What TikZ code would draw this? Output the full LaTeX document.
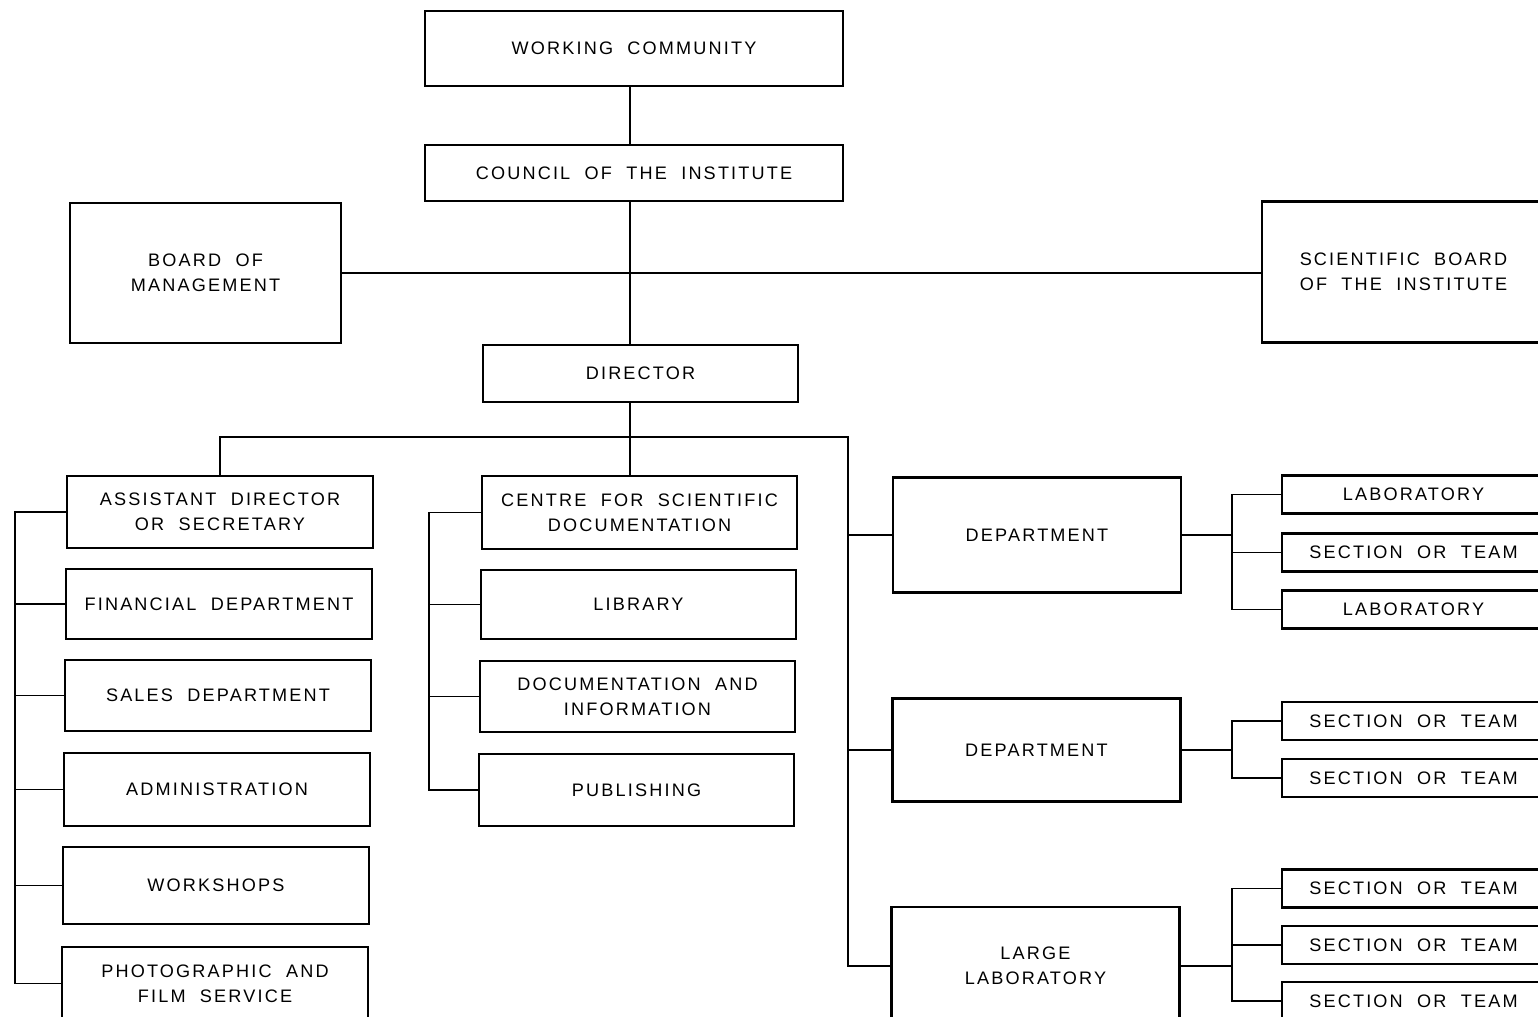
\documentclass[tikz,border=0pt]{standalone}
\usepackage{fontspec}
\usepackage{tikz}
\usetikzlibrary{positioning}
\newfontfamily\chartfont[LetterSpace=12,WordSpace=2]{Liberation Sans}
\tikzset{
  unit/.style={draw=black, line width=1.5pt, fill=white, align=center,
               inner sep=2pt, font=\chartfont\fontsize{10.3}{14.2}\selectfont},
  leftbox/.style={unit, minimum width=6.12cm},
  midbox/.style={unit, minimum width=6.3cm},
  deptbox/.style={unit, minimum width=5.76cm},
  teambox/.style={unit, minimum width=5.26cm, minimum height=0.76cm},
  link/.style={draw=black, line width=1pt}
}
\begin{document}
\begin{tikzpicture}[x=0.02cm, y=-0.02cm]
  \useasboundingbox (0,0) rectangle (1538,1017);
  \clip (0,0) rectangle (1538,1017);
  \node[unit, minimum width=8.36cm, minimum height=1.5cm] (wc) at (634,48.5) {WORKING COMMUNITY};
  \node[unit, minimum width=8.36cm, minimum height=1.12cm] (council) at (634,173) {COUNCIL OF THE INSTITUTE};
  \node[unit, minimum width=5.42cm, minimum height=2.8cm] (board) at (205.5,273) {BOARD OF\\MANAGEMENT};
  \node[unit, minimum width=5.66cm, minimum height=2.82cm] (sciboard) at (1403.5,272) {SCIENTIFIC BOARD\\OF THE INSTITUTE};
  \node[unit, minimum width=6.3cm, minimum height=1.14cm] (director) at (640.5,373.5) {DIRECTOR};
  \node[leftbox, minimum height=1.44cm] (asst) at (220,512) {ASSISTANT DIRECTOR\\OR SECRETARY};
  \node[leftbox, minimum height=1.4cm] (fin) at (219,604) {FINANCIAL DEPARTMENT};
  \node[leftbox, minimum height=1.42cm] (sales) at (218,695.5) {SALES DEPARTMENT};
  \node[leftbox, minimum height=1.46cm] (admin) at (217,789.5) {ADMINISTRATION};
  \node[leftbox, minimum height=1.54cm] (work) at (216,885.5) {WORKSHOPS};
  \node[leftbox, minimum height=1.46cm] (photo) at (215,983.5) {PHOTOGRAPHIC AND\\FILM SERVICE};
  \node[midbox, minimum height=1.46cm] (centre) at (639.5,512.5) {CENTRE FOR SCIENTIFIC\\DOCUMENTATION};
  \node[midbox, minimum height=1.38cm] (lib) at (638.5,604.5) {LIBRARY};
  \node[midbox, minimum height=1.42cm] (docinfo) at (637.5,696.5) {DOCUMENTATION AND\\INFORMATION};
  \node[midbox, minimum height=1.44cm] (publ) at (636.5,790) {PUBLISHING};
  \node[deptbox, minimum height=2.3cm] (dept1) at (1037,535) {DEPARTMENT};
  \node[deptbox, minimum height=2.06cm] (dept2) at (1036.5,750) {DEPARTMENT};
  \node[deptbox, minimum height=2.36cm] (largelab) at (1035.5,966) {LARGE\\LABORATORY};
  \node[teambox] (lab1a) at (1413.5,494.5) {LABORATORY};
  \node[teambox] (sec1) at (1413.5,552.5) {SECTION OR TEAM};
  \node[teambox] (lab1b) at (1413.5,609.5) {LABORATORY};
  \node[teambox] (sec2a) at (1413.5,721) {SECTION OR TEAM};
  \node[teambox] (sec2b) at (1413.5,778) {SECTION OR TEAM};
  \node[teambox] (sec3a) at (1413.5,888.5) {SECTION OR TEAM};
  \node[teambox] (sec3b) at (1413.5,945) {SECTION OR TEAM};
  \node[teambox] (sec3c) at (1413.5,1001) {SECTION OR TEAM};
  \coordinate (bus) at (630,437);
  \coordinate (rbus) at (848,437);
  \coordinate (lsp) at (15,0);
  \coordinate (msp) at (429,0);
  \coordinate (rsp) at (1232,0);
  \draw[link] (wc.south -| bus) -- (council.north -| bus);
  \draw[link] (council.south -| bus) -- (director.north -| bus);
  \draw[link] (director.south -| bus) -- (bus);
  \draw[link] (board.east) -- (board.east -| sciboard.west);
  \draw[link] (asst.north) |- (rbus) -- (largelab.west -| rbus) -- (largelab.west);
  \draw[link] (bus) -- (bus |- centre.north);
  \foreach \d in {dept1,dept2} \draw[link] (\d.west -| rbus) -- (\d.west);
  \draw[link] (asst.west) -- (asst.west -| lsp) -- (photo.west -| lsp) -- (photo.west);
  \foreach \n in {fin,sales,admin,work} \draw[link] (\n.west) -- (\n.west -| lsp);
  \draw[link] (centre.west) -- (centre.west -| msp) -- (publ.west -| msp) -- (publ.west);
  \foreach \n in {lib,docinfo} \draw[link] (\n.west) -- (\n.west -| msp);
  \draw[link] (dept1.east) -- (dept1.east -| rsp);
  \draw[link] (lab1a.west) -- (lab1a.west -| rsp) -- (lab1b.west -| rsp) -- (lab1b.west);
  \draw[link] (sec1.west) -- (sec1.west -| rsp);
  \draw[link] (dept2.east) -- (dept2.east -| rsp);
  \draw[link] (sec2a.west) -- (sec2a.west -| rsp) -- (sec2b.west -| rsp) -- (sec2b.west);
  \draw[link] (largelab.east) -- (largelab.east -| rsp);
  \draw[link] (sec3a.west) -- (sec3a.west -| rsp) -- (sec3c.west -| rsp) -- (sec3c.west);
  \draw[link] (sec3b.west) -- (sec3b.west -| rsp);
\end{tikzpicture}
\end{document}
